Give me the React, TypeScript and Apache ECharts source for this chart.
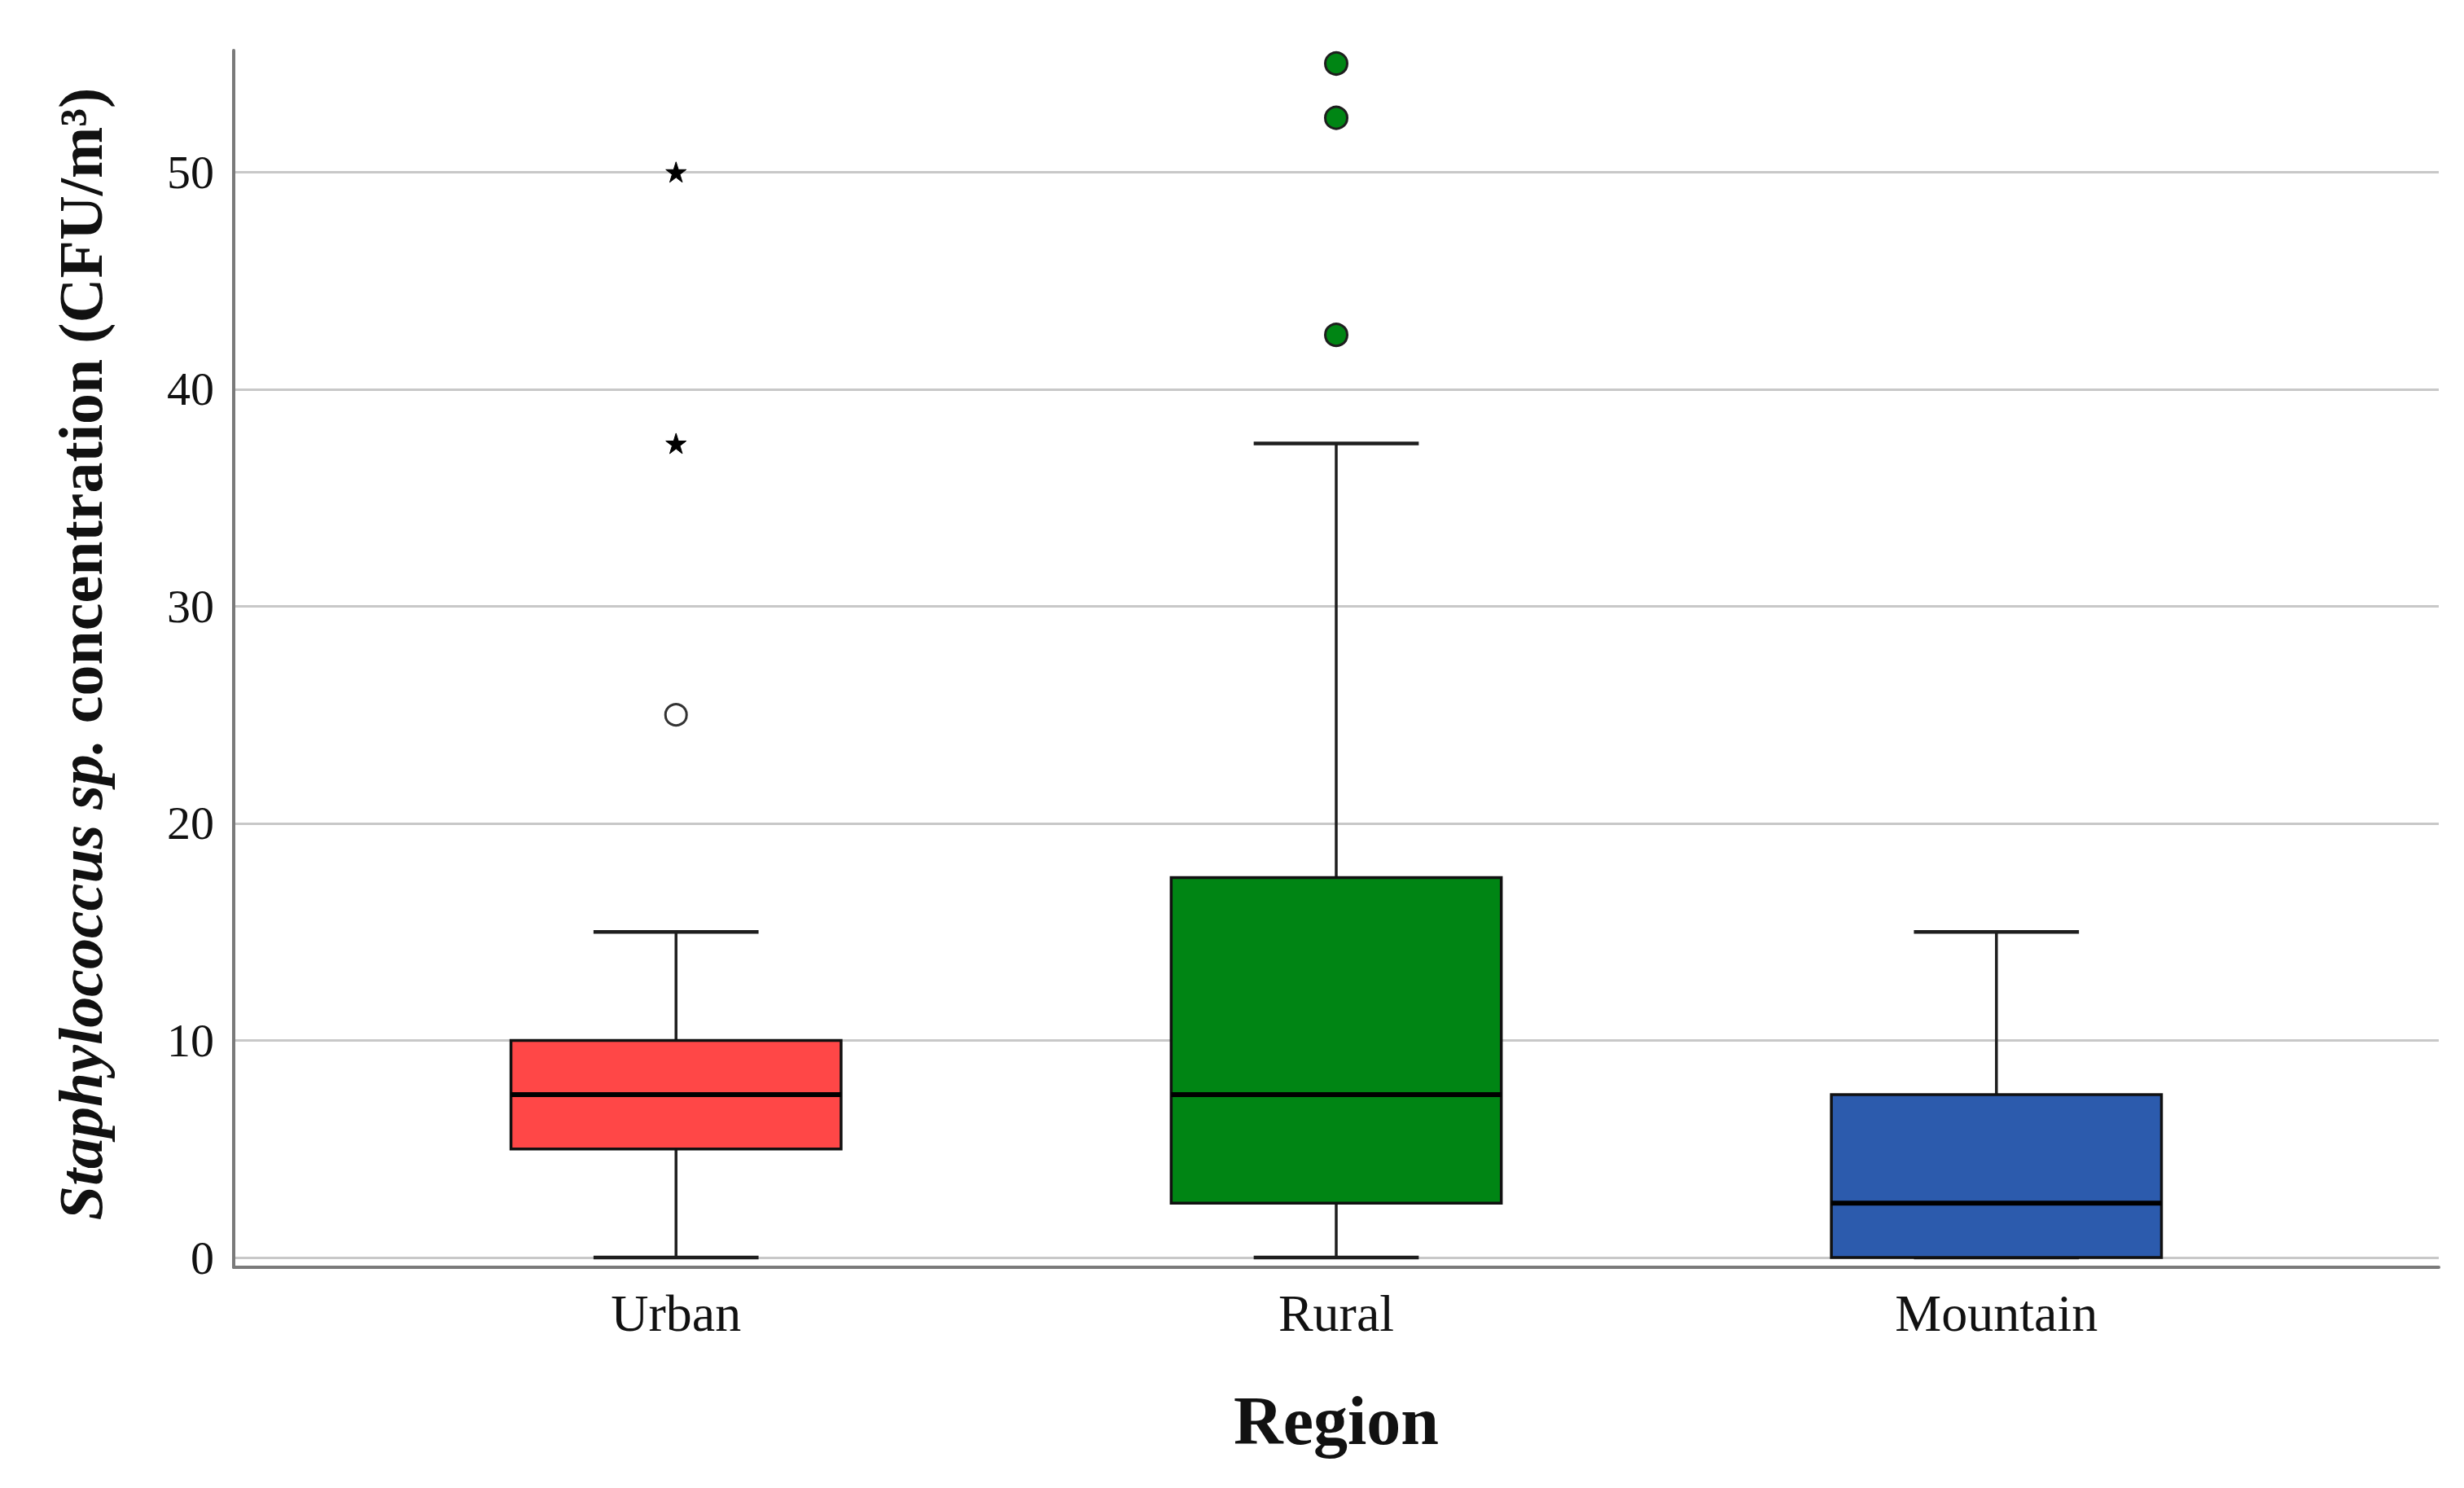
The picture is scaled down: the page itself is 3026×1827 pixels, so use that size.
import React, { useEffect, useRef } from "react";
import * as echarts from "echarts";

// ---- data ----
const categories = ["Urban", "Rural", "Mountain"];
const whiskerLow = [0, 0, 0];
const q1 = [5, 2.5, 0];
const median = [7.5, 7.5, 2.5];
const q3 = [10, 17.5, 7.5];
const whiskerHigh = [15, 37.5, 15];
const boxColors = ["#FF4747", "#008514", "#2C5BAD"];

// outliers
const urbanMildOutliers = [25];
const urbanExtremeOutliers = [37.5, 50];
const ruralOutliers = [42.5, 52.5, 55];

const yTicks = [0, 10, 20, 30, 40, 50];

const STAR =
  "path://M50,0 L61.2,34.5 L97.6,34.5 L68.2,55.9 L79.4,90.5 L50,69.1 L20.6,90.5 L31.8,55.9 L2.4,34.5 L38.8,34.5 Z";

const FONT = "'Liberation Serif', 'Times New Roman', serif";

export default function App() {
  const ref = useRef<HTMLDivElement>(null);

  useEffect(() => {
    if (!ref.current) return;
    const chart = echarts.init(ref.current, null, { renderer: "svg" });

    const boxData = categories.map((_, i) => [
      i + 1,
      whiskerLow[i],
      q1[i],
      median[i],
      q3[i],
      whiskerHigh[i],
    ]);

    const outlierData: any[] = [];
    urbanMildOutliers.forEach((v) =>
      outlierData.push({
        value: [1, v],
        symbol: "circle",
        symbolSize: 26,
        itemStyle: { color: "#ffffff", borderColor: "#333333", borderWidth: 3, opacity: 1 },
      })
    );
    urbanExtremeOutliers.forEach((v) =>
      outlierData.push({
        value: [1, v],
        symbol: STAR,
        symbolSize: 25,
        itemStyle: { color: "#000000", borderColor: "#000000", borderWidth: 1, opacity: 1 },
      })
    );
    ruralOutliers.forEach((v) =>
      outlierData.push({
        value: [2, v],
        symbol: "circle",
        symbolSize: 27,
        itemStyle: { color: boxColors[1], borderColor: "#1e1e1e", borderWidth: 3, opacity: 1 },
      })
    );

    const option: any = {
      animation: false,
      backgroundColor: "#ffffff",
      grid: [
        // frame grid (axis lines only)
        { left: 287, right: 31, top: 62, bottom: 1827 - 1556 },
        // data grid
        { left: 287, right: 31, top: 62, bottom: 1827 - 1544 },
      ],
      xAxis: [
        {
          gridIndex: 0,
          type: "value",
          min: 0,
          max: 1,
          axisLine: { show: true, onZero: false, lineStyle: { color: "#7a7a7a", width: 4 } },
          axisTick: { show: false },
          axisLabel: { show: false },
          splitLine: { show: false },
        },
        {
          gridIndex: 1,
          type: "value",
          min: 0.33,
          max: 3.67,
          axisLine: { show: false },
          axisTick: { show: false },
          splitLine: { show: false },
          axisLabel: {
            customValues: [1, 2, 3],
            formatter: (v: number) => categories[Math.round(v) - 1] ?? "",
            fontFamily: FONT,
            fontSize: 64,
            color: "#111111",
            margin: 36,
          },
          name: "Region",
          nameLocation: "middle",
          nameGap: 158,
          nameTextStyle: {
            fontFamily: FONT,
            fontWeight: "bold",
            fontSize: 84,
            color: "#111111",
          },
        },
      ],
      yAxis: [
        {
          gridIndex: 0,
          type: "value",
          min: -0.45,
          max: 55.6,
          axisLine: { show: true, onZero: false, lineStyle: { color: "#7a7a7a", width: 4 } },
          axisTick: { show: false },
          axisLabel: { show: false },
          splitLine: { show: false },
        },
        {
          gridIndex: 1,
          type: "value",
          min: 0,
          max: 55.6,
          interval: 10,
          axisLine: { show: false },
          axisTick: { show: false },
          splitLine: {
            show: true,
            showMaxLine: false,
            lineStyle: { color: "#c8c8c8", width: 3 },
          },
          axisLabel: {
            fontFamily: FONT,
            fontSize: 58,
            color: "#111111",
            margin: 24,
            showMaxLabel: false,
            formatter: (v: number) => (yTicks.includes(v) ? String(v) : ""),
          },
          name: "{i|Staphylococcus sp.} concentration (CFU/m³)",
          nameLocation: "middle",
          nameGap: 150,
          nameTextStyle: {
            fontFamily: FONT,
            fontWeight: "bold",
            fontSize: 76,
            color: "#111111",
            padding: [0, 0, 0, 0],
            rich: {
              i: {
                fontFamily: FONT,
                fontWeight: "bold",
                fontStyle: "italic",
                fontSize: 76,
                color: "#111111",
              },
            },
          },
        },
      ],
      series: [
        {
          type: "custom",
          xAxisIndex: 1,
          yAxisIndex: 1,
          data: boxData,
          encode: { x: 0, y: [1, 2, 3, 4, 5] },
          renderItem: (params: any, api: any) => {
            const x = api.value(0);
            const lo = api.coord([x, api.value(1)]);
            const b1 = api.coord([x, api.value(2)]);
            const md = api.coord([x, api.value(3)]);
            const b3 = api.coord([x, api.value(4)]);
            const hi = api.coord([x, api.value(5)]);
            const w = api.size([0.5, 0])[0];
            const cw = w / 2;
            const cx = lo[0];
            const lineStyle = { stroke: "#1e1e1e", lineWidth: 3.5 };
            return {
              type: "group",
              children: [
                {
                  type: "line",
                  shape: { x1: cx, y1: b1[1], x2: cx, y2: lo[1] },
                  style: lineStyle,
                },
                {
                  type: "line",
                  shape: { x1: cx, y1: b3[1], x2: cx, y2: hi[1] },
                  style: lineStyle,
                },
                {
                  type: "line",
                  shape: { x1: cx - cw / 2, y1: lo[1], x2: cx + cw / 2, y2: lo[1] },
                  style: { stroke: "#1e1e1e", lineWidth: 4.5 },
                },
                {
                  type: "line",
                  shape: { x1: cx - cw / 2, y1: hi[1], x2: cx + cw / 2, y2: hi[1] },
                  style: { stroke: "#1e1e1e", lineWidth: 4.5 },
                },
                {
                  type: "rect",
                  shape: { x: cx - w / 2, y: b3[1], width: w, height: b1[1] - b3[1] },
                  style: {
                    fill: boxColors[params.dataIndex],
                    stroke: "#111111",
                    lineWidth: 3.5,
                  },
                },
                {
                  type: "line",
                  shape: { x1: cx - w / 2, y1: md[1], x2: cx + w / 2, y2: md[1] },
                  style: { stroke: "#000000", lineWidth: 6 },
                },
              ],
            };
          },
          z: 3,
        },
        {
          type: "scatter",
          xAxisIndex: 1,
          yAxisIndex: 1,
          data: outlierData,
          itemStyle: { opacity: 1 },
          z: 4,
        },
      ],
    };

    chart.setOption(option);
    return () => chart.dispose();
  }, []);

  return (
    <div
      ref={ref}
      style={{ position: "fixed", left: 0, top: 0, width: 3026, height: 1827, background: "#fff" }}
    />
  );
}
